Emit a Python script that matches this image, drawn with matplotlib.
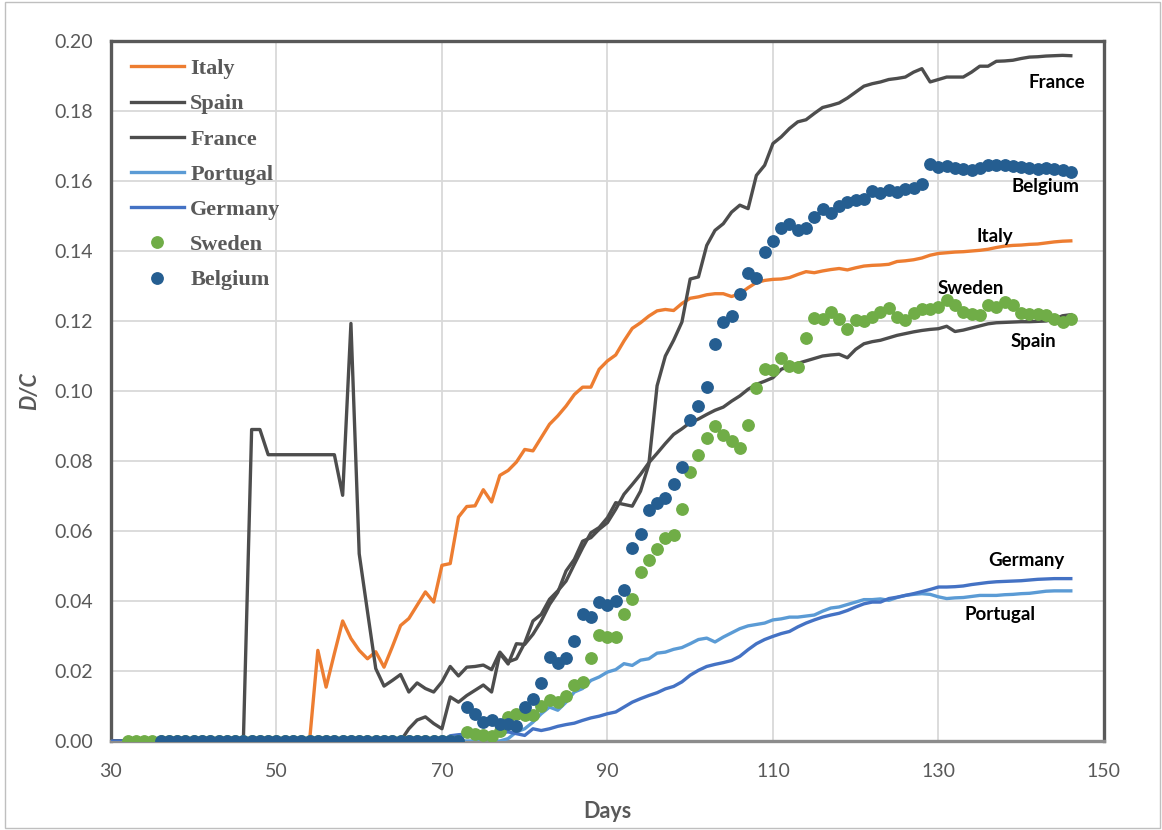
import numpy as np
import matplotlib.pyplot as plt
from matplotlib.patches import Rectangle

# D/C ratio per day (day index on x)
ITALY_START = 30
italy = [
    0, 0, 0, 0, 0, 0, 0, 0, 0, 0,
    0, 0, 0, 0, 0, 0, 0, 0, 0, 0,
    0, 0, 0, 0, 0, 0.0259, 0.0154, 0.025, 0.0343, 0.0293,
    0.0259, 0.0235, 0.0255, 0.0211, 0.0269, 0.033, 0.035, 0.0388, 0.0426, 0.0397,
    0.0502, 0.0507, 0.064, 0.067, 0.0672, 0.0718, 0.0683, 0.0759, 0.0773, 0.0797,
    0.0833, 0.0829, 0.0867, 0.0905, 0.0929, 0.0957, 0.099, 0.1011, 0.1011, 0.1062,
    0.1086, 0.1103, 0.1143, 0.1179, 0.1195, 0.1214, 0.1229, 0.1233, 0.123, 0.125,
    0.1265, 0.1269, 0.1275, 0.1278, 0.1278, 0.127, 0.1278, 0.1295, 0.131, 0.1316,
    0.1319, 0.132, 0.1324, 0.1333, 0.1341, 0.1338, 0.1343, 0.1347, 0.135, 0.1346,
    0.1352, 0.1357, 0.1359, 0.136, 0.1362, 0.137, 0.1372, 0.1375, 0.138, 0.1388,
    0.1393, 0.1395, 0.1397, 0.1398, 0.14, 0.1402, 0.1405, 0.141, 0.1414, 0.1416,
    0.1417, 0.1419, 0.142, 0.1423, 0.1426, 0.1428, 0.1429,
]

SPAIN_START = 30
spain = [
    0, 0, 0, 0, 0, 0, 0, 0, 0, 0,
    0, 0, 0, 0, 0, 0, 0, 0, 0, 0,
    0, 0, 0, 0, 0, 0, 0, 0, 0, 0,
    0, 0, 0, 0, 0, 0, 0.0035, 0.006, 0.0069, 0.005,
    0.0035, 0.0126, 0.0111, 0.013, 0.0145, 0.016, 0.014, 0.025, 0.022, 0.0278,
    0.0276, 0.0305, 0.0343, 0.039, 0.0425, 0.0486, 0.0519, 0.0571, 0.0581, 0.0605,
    0.0624, 0.0662, 0.0705, 0.0733, 0.0762, 0.0795, 0.0822, 0.085, 0.0876, 0.0892,
    0.091, 0.092, 0.0933, 0.0945, 0.0954, 0.0971, 0.0986, 0.1005, 0.1019, 0.1028,
    0.1038, 0.1062, 0.1071, 0.1079, 0.1086, 0.1093, 0.11, 0.1103, 0.1105, 0.1095,
    0.1119, 0.1135, 0.1141, 0.1145, 0.1152, 0.1159, 0.1164, 0.1169, 0.1173, 0.1176,
    0.1178, 0.1185, 0.117, 0.1174, 0.118, 0.1186, 0.1192, 0.1195, 0.1196, 0.1197,
    0.1198, 0.1198, 0.1199, 0.12, 0.1205, 0.1215, 0.1218,
]

FRANCE_START = 30
france = [
    0, 0, 0, 0, 0, 0, 0, 0, 0, 0,
    0, 0, 0, 0, 0, 0, 0, 0.089, 0.089, 0.0818,
    0.0818, 0.0818, 0.0818, 0.0818, 0.0818, 0.0818, 0.0818, 0.0818, 0.0702, 0.1193,
    0.0535, 0.037, 0.0207, 0.0157, 0.0173, 0.019, 0.014, 0.0166, 0.015, 0.014,
    0.0169, 0.0213, 0.0186, 0.0211, 0.0213, 0.0217, 0.0204, 0.0254, 0.0226, 0.0235,
    0.028, 0.0343, 0.0362, 0.0405, 0.0429, 0.0457, 0.0505, 0.0552, 0.0595, 0.061,
    0.0638, 0.0681, 0.0676, 0.0671, 0.0714, 0.079, 0.1015, 0.11, 0.1145, 0.1197,
    0.132, 0.1326, 0.1416, 0.1459, 0.1478, 0.1511, 0.1531, 0.1521, 0.1616, 0.1645,
    0.1707, 0.1726, 0.175, 0.1769, 0.1775, 0.1793, 0.181, 0.1816, 0.1823, 0.1837,
    0.1854, 0.1871, 0.1878, 0.1883, 0.189, 0.1893, 0.1897, 0.1911, 0.1921, 0.1883,
    0.189, 0.1897, 0.1897, 0.1897, 0.1911, 0.1928, 0.1928, 0.1942, 0.1943, 0.1945,
    0.195, 0.1954, 0.1955, 0.1957, 0.1958, 0.1959, 0.1958,
]

PORTUGAL_START = 62
portugal = [
    0, 0, 0, 0, 0, 0, 0, 0,
    0, 0, 0, 0, 0, 0, 0, 0, 0.0007, 0.0026,
    0.0035, 0.0054, 0.0078, 0.0097, 0.0088, 0.0111, 0.014, 0.015, 0.0173, 0.0183,
    0.0197, 0.0204, 0.0221, 0.0216, 0.0231, 0.0235, 0.0251, 0.0254, 0.0262, 0.0267,
    0.0278, 0.029, 0.0294, 0.0283, 0.0297, 0.0309, 0.0321, 0.0329, 0.0333, 0.0337,
    0.0346, 0.0349, 0.0354, 0.0354, 0.0357, 0.036, 0.0371, 0.038, 0.0383, 0.039,
    0.0397, 0.0404, 0.0404, 0.0406, 0.0402, 0.041, 0.0416, 0.0419, 0.0421, 0.0419,
    0.0412, 0.0407, 0.0409, 0.041, 0.0413, 0.0416, 0.0416, 0.0416, 0.0418, 0.0419,
    0.0421, 0.0422, 0.0425, 0.0428, 0.0429, 0.0429, 0.0429,
]

GERMANY_START = 30
germany = [
    0, 0, 0, 0, 0, 0, 0, 0, 0, 0,
    0, 0, 0, 0, 0, 0, 0, 0, 0, 0,
    0, 0, 0, 0, 0, 0, 0, 0, 0, 0,
    0, 0, 0, 0, 0, 0, 0, 0, 0, 0,
    0, 0.0015, 0.0018, 0.002, 0.002, 0.0021, 0.0022, 0.0024, 0.0026, 0.0021,
    0.0016, 0.0035, 0.003, 0.0035, 0.0042, 0.0047, 0.0051, 0.0059, 0.0066, 0.0071,
    0.0078, 0.0083, 0.0097, 0.0111, 0.0121, 0.013, 0.0138, 0.0149, 0.0156, 0.0169,
    0.0188, 0.0202, 0.0213, 0.0219, 0.0224, 0.023, 0.0242, 0.0261, 0.0278, 0.029,
    0.0299, 0.0307, 0.0313, 0.0326, 0.0337, 0.0346, 0.0354, 0.036, 0.0365, 0.0373,
    0.0383, 0.0392, 0.0397, 0.0397, 0.0407, 0.0411, 0.0416, 0.0421, 0.0427, 0.0433,
    0.044, 0.044, 0.0441, 0.0443, 0.0447, 0.045, 0.0453, 0.0455, 0.0456, 0.0457,
    0.0458, 0.046, 0.0462, 0.0463, 0.0464, 0.0464, 0.0464,
]

SWEDEN_START = 32
sweden = [
    0, 0, 0, 0, 0, 0, 0, 0,
    0, 0, 0, 0, 0, 0, 0, 0, 0, 0,
    0, 0, 0, 0, 0, 0, 0, 0, 0, 0,
    0, 0, 0, 0, 0, 0, 0, 0, 0, 0,
    0, 0, 0, 0.0026, 0.0021, 0.0016, 0.0013, 0.003, 0.0068, 0.0076,
    0.0075, 0.0075, 0.01, 0.0116, 0.0111, 0.0128, 0.016, 0.0169, 0.0237, 0.0303,
    0.0297, 0.0297, 0.0364, 0.0407, 0.0483, 0.0516, 0.055, 0.0579, 0.0588, 0.0664,
    0.0769, 0.0816, 0.0867, 0.09, 0.0874, 0.0857, 0.0838, 0.0903, 0.101, 0.1064,
    0.1059, 0.1093, 0.1071, 0.1069, 0.1152, 0.121, 0.1205, 0.1227, 0.1207, 0.1178,
    0.1203, 0.12, 0.1211, 0.1227, 0.1236, 0.1212, 0.1204, 0.1223, 0.1235, 0.1235,
    0.124, 0.1259, 0.1245, 0.1226, 0.1221, 0.1217, 0.1245, 0.124, 0.1254, 0.1245,
    0.1223, 0.1221, 0.1221, 0.1217, 0.1207, 0.1198, 0.1207,
]

BELGIUM_START = 36
belgium = [
    0, 0, 0, 0,
    0, 0, 0, 0, 0, 0, 0, 0, 0, 0,
    0, 0, 0, 0, 0, 0, 0, 0, 0, 0,
    0, 0, 0, 0, 0, 0, 0, 0, 0, 0,
    0, 0, 0, 0.0097, 0.0076, 0.0054, 0.006, 0.0048, 0.005, 0.0043,
    0.0097, 0.0121, 0.0166, 0.024, 0.0223, 0.0238, 0.0287, 0.0362, 0.0353, 0.0398,
    0.0388, 0.04, 0.0432, 0.0552, 0.0592, 0.0659, 0.0681, 0.0695, 0.0733, 0.0783,
    0.0918, 0.0958, 0.1011, 0.1133, 0.1196, 0.1215, 0.1276, 0.1337, 0.1323, 0.1396,
    0.1428, 0.1467, 0.1478, 0.1459, 0.1467, 0.1497, 0.1519, 0.1508, 0.153, 0.1539,
    0.1546, 0.1549, 0.1571, 0.1565, 0.1574, 0.157, 0.1576, 0.1581, 0.1591, 0.1648,
    0.164, 0.1642, 0.1638, 0.1635, 0.1632, 0.1638, 0.1645, 0.1645, 0.1645, 0.1642,
    0.164, 0.1638, 0.1635, 0.1637, 0.1635, 0.1632, 0.1626,
]

# end-of-series labels: (text, day, value)
end_labels = [
    ("France", 144.3, 0.1882),
    ("Belgium", 142.9, 0.1585),
    ("Italy", 136.8, 0.1442),
    ("Sweden", 133.9, 0.1294),
    ("Spain", 141.5, 0.1142),
    ("Germany", 140.6, 0.0516),
    ("Portugal", 137.5, 0.0362),
]

GREY = "#595959"
COLORS = {
    "Italy": "#ED7D31",
    "Spain": "#4D4D4D",
    "France": "#4D4D4D",
    "Portugal": "#5B9BD5",
    "Germany": "#4472C4",
    "Sweden": "#70AD47",
    "Belgium": "#255E91",
}


def days_for(start, values):
    return np.arange(start, start + len(values))


fig = plt.figure(figsize=(11.62, 8.30), dpi=100)
ax = fig.add_axes([0.0955, 0.1072, 0.8545, 0.8434])

lines = [
    ("Italy", ITALY_START, italy),
    ("Spain", SPAIN_START, spain),
    ("France", FRANCE_START, france),
    ("Portugal", PORTUGAL_START, portugal),
    ("Germany", GERMANY_START, germany),
]
for name, start, vals in lines:
    ax.plot(days_for(start, vals), vals, color=COLORS[name], lw=2.4,
            label=name, zorder=3, solid_joinstyle="round")

for name, start, vals in [("Sweden", SWEDEN_START, sweden),
                          ("Belgium", BELGIUM_START, belgium)]:
    ax.plot(days_for(start, vals), vals, ls="none", marker="o", ms=8.2,
            color=COLORS[name], label=name, zorder=4)

ax.set_xlim(30, 150)
ax.set_ylim(0, 0.20)
ax.set_xticks(np.arange(30, 151, 20))
ax.set_yticks(np.arange(0, 0.201, 0.02))
ax.yaxis.set_major_formatter(plt.FuncFormatter(lambda v, p: f"{v:.2f}"))
ax.grid(True, color="#D9D9D9", lw=1.3, zorder=0)
ax.set_axisbelow(True)
ax.tick_params(length=0, labelsize=14, labelcolor=GREY)
ax.tick_params(axis="x", pad=16)
ax.tick_params(axis="y", pad=13)
for lab in ax.get_xticklabels() + ax.get_yticklabels():
    lab.set_family("Lato")

for side in ["top", "right", "left"]:
    ax.spines[side].set_color(GREY)
    ax.spines[side].set_linewidth(2.4)
ax.spines["bottom"].set_color("#8C8C8C")
ax.spines["bottom"].set_linewidth(2.4)

ax.set_xlabel("Days", fontsize=15.5, fontweight="bold", color=GREY,
              family="Lato", labelpad=15)
ax.set_ylabel("D/C", fontsize=15.5, fontweight="bold", style="italic",
              color=GREY, family="Lato", labelpad=10)

for text, x, y in end_labels:
    ax.text(x, y, text, ha="center", va="center", fontsize=13.5,
            fontweight="bold", family="Lato", color="black", zorder=5)

leg = ax.legend(loc="upper left", bbox_to_anchor=(0.020, 0.975), frameon=False,
                handlelength=2.4, handletextpad=0.27, labelspacing=0.66,
                borderaxespad=0, borderpad=0,
                prop={"family": "Liberation Serif", "size": 16, "weight": "bold"})
for t in leg.get_texts():
    t.set_color(GREY)

# thin outer frame of the chart area
fig.patches.append(Rectangle((0.004, 0.002), 0.994, 0.996, transform=fig.transFigure,
                             fill=False, edgecolor="#BFBFBF", lw=1.0))

fig.savefig("out.png", dpi=100)
